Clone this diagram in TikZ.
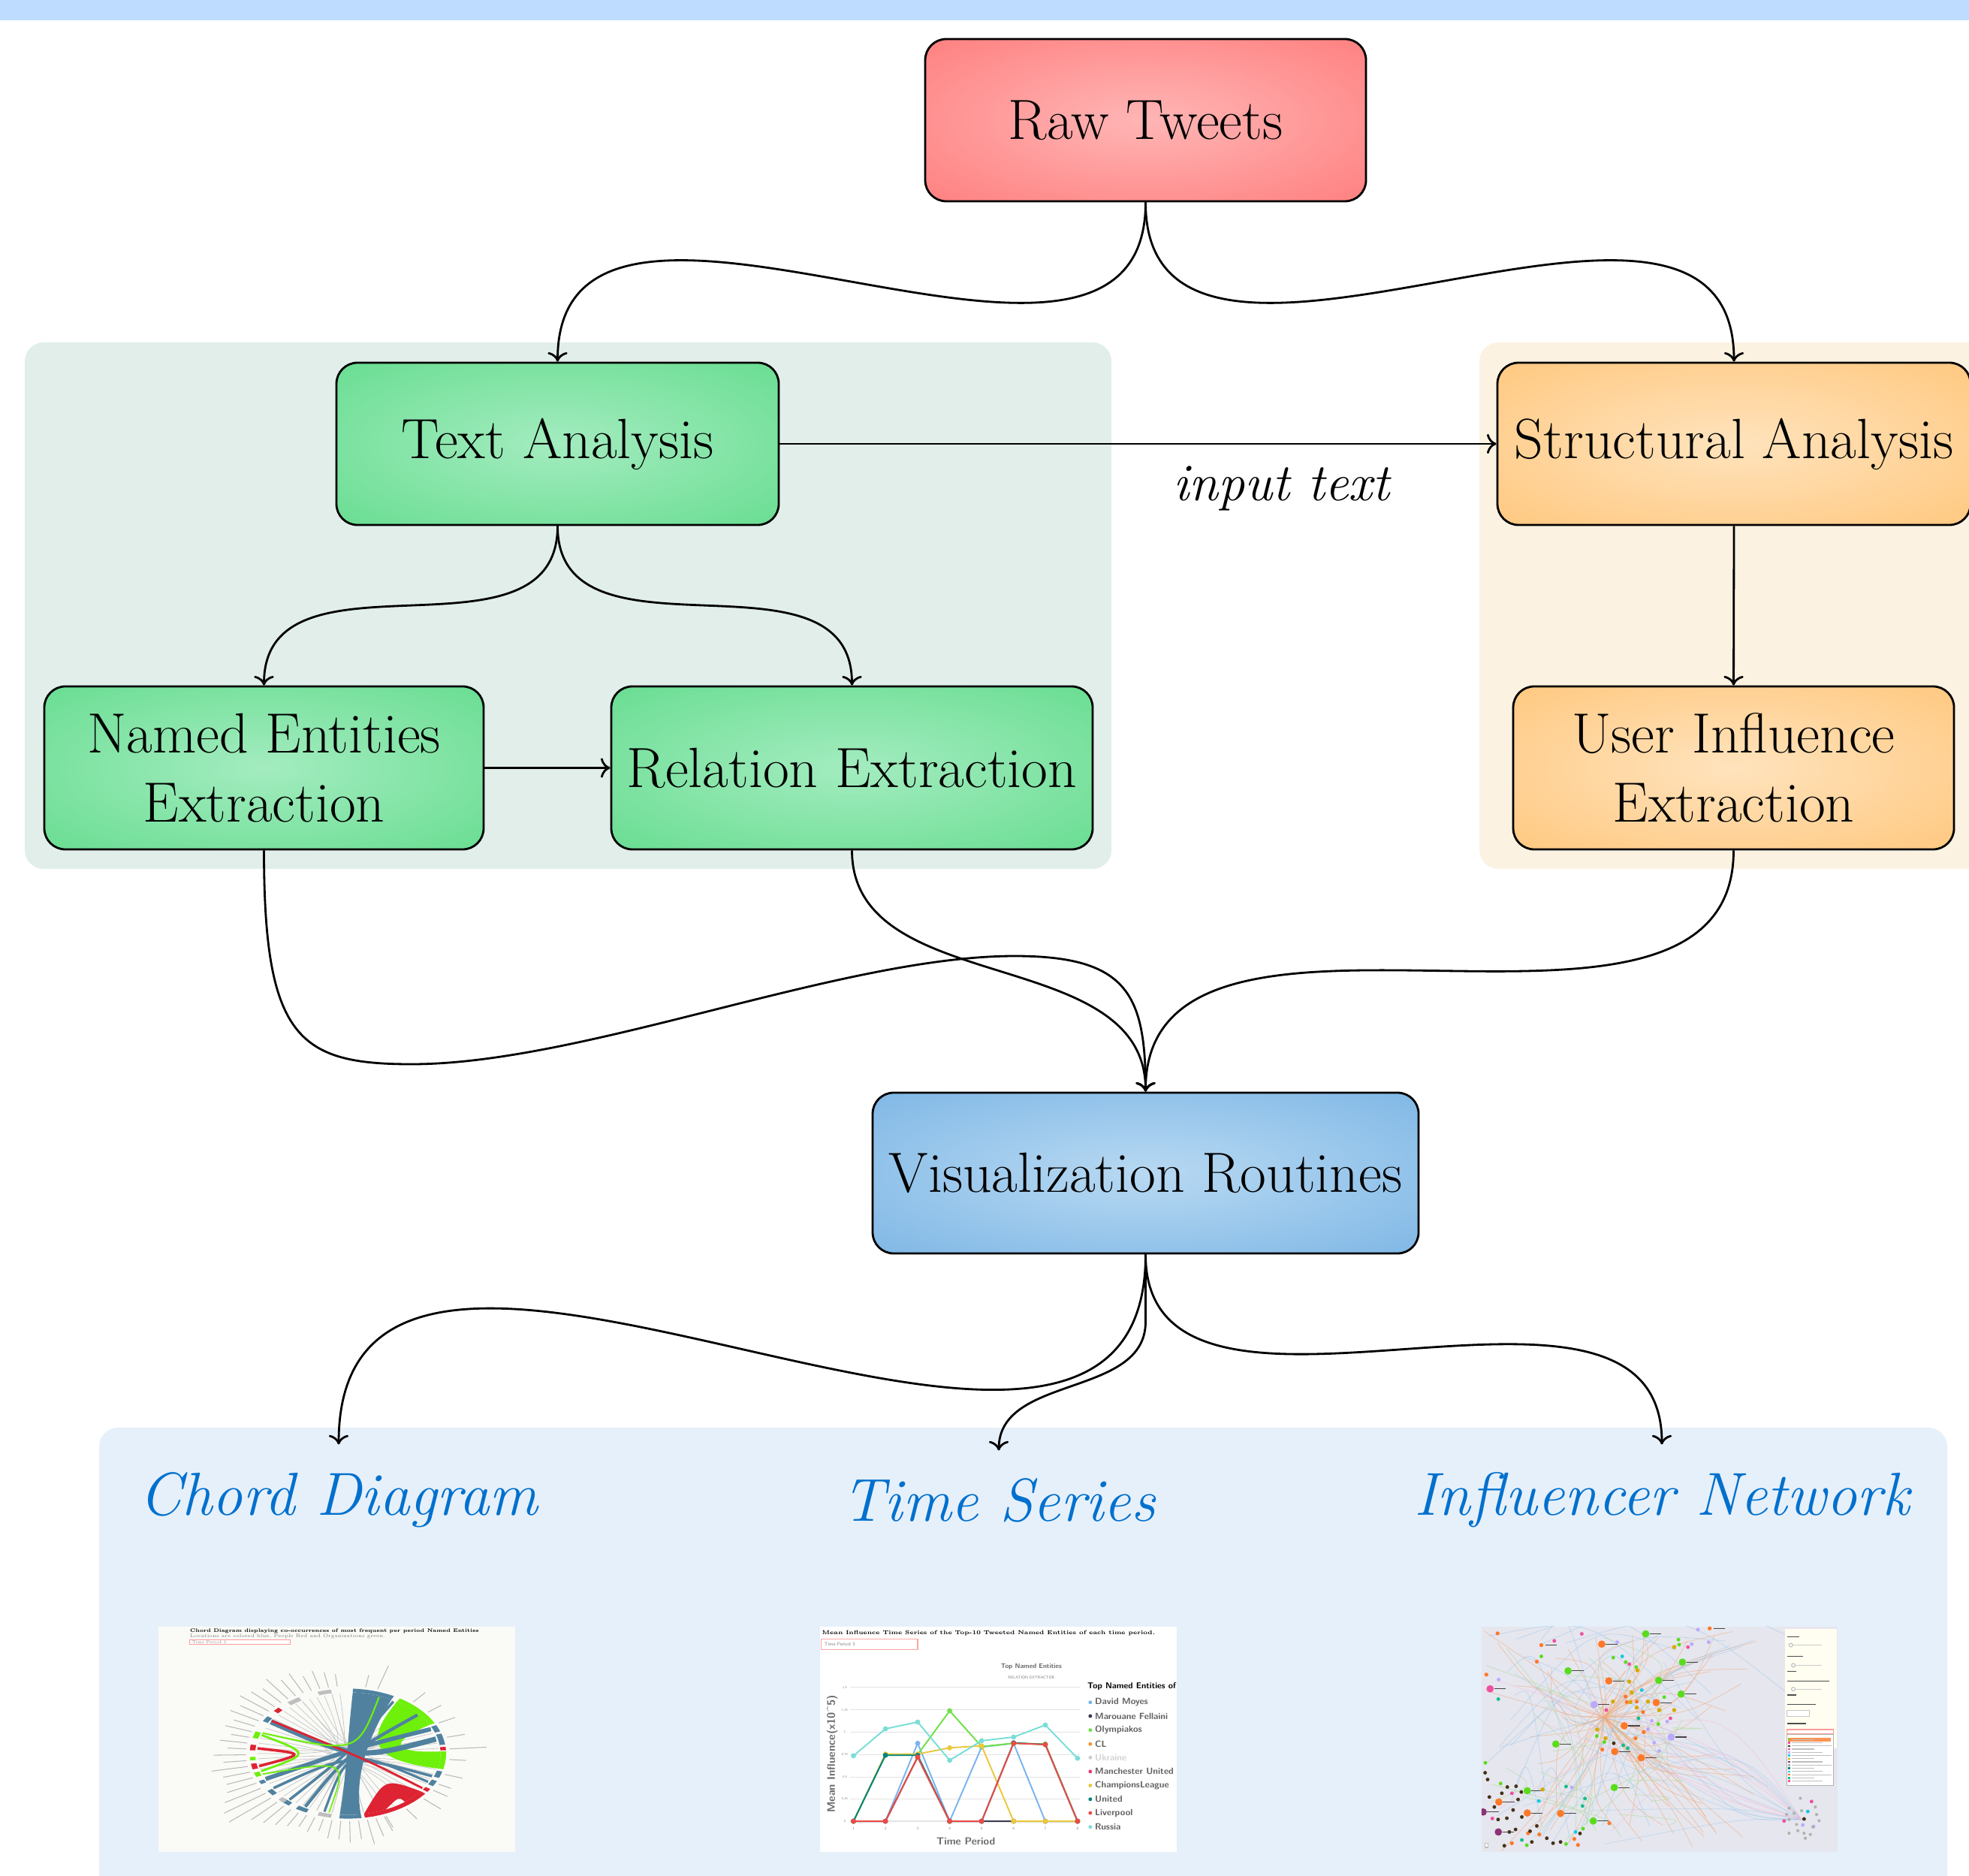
\documentclass[tikz,border=0pt]{standalone}
\usetikzlibrary{arrows.meta}

% palette
\definecolor{bandblue}{RGB}{190,220,255}
\definecolor{panelgreen}{RGB}{225,238,233}
\definecolor{panelorange}{RGB}{252,242,226}
\definecolor{panelblue}{RGB}{230,240,250}
\definecolor{vislabel}{RGB}{0,112,206}
\definecolor{chordblue}{RGB}{80,130,160}
\definecolor{chordgreen}{RGB}{110,240,10}
\definecolor{chordred}{RGB}{222,35,50}
\definecolor{thumbbg}{RGB}{250,250,247}
\definecolor{netbg}{RGB}{230,230,238}
\definecolor{netor}{RGB}{255,120,40}
\definecolor{netgr}{RGB}{90,220,30}
\definecolor{netpu}{RGB}{185,170,255}
\definecolor{netpk}{RGB}{240,80,160}
\definecolor{netgd}{RGB}{215,170,10}
\definecolor{netcy}{RGB}{20,200,230}
\definecolor{nettl}{RGB}{20,190,140}
\definecolor{netbk}{RGB}{70,50,25}
\definecolor{netpl}{RGB}{140,50,120}
\definecolor{netgy}{RGB}{175,180,170}
\definecolor{netline}{RGB}{240,170,120}
\definecolor{netlineb}{RGB}{150,200,235}
\definecolor{netlineg}{RGB}{170,220,150}
\definecolor{tsrussia}{RGB}{120,222,215}
\definecolor{tsolymp}{RGB}{110,225,70}
\definecolor{tscl}{RGB}{245,150,50}
\definecolor{tschamp}{RGB}{235,200,60}
\definecolor{tsunited}{RGB}{0,130,125}
\definecolor{tsliver}{RGB}{235,75,70}
\definecolor{tsmanu}{RGB}{230,60,110}
\definecolor{tsmoyes}{RGB}{120,180,240}
\definecolor{tsfell}{RGB}{60,60,80}
\definecolor{tsukr}{RGB}{205,205,205}

% soft radial fills for the stage boxes
\pgfdeclareradialshading{redglow}{\pgfpoint{0bp}{0bp}}{rgb(0bp)=(1,0.71,0.71); rgb(36bp)=(1,0.5,0.5); rgb(50bp)=(1,0.5,0.5)}
\pgfdeclareradialshading{greenglow}{\pgfpoint{0bp}{0bp}}{rgb(0bp)=(0.64,0.925,0.75); rgb(36bp)=(0.41,0.867,0.57); rgb(50bp)=(0.41,0.867,0.57)}
\pgfdeclareradialshading{orangeglow}{\pgfpoint{0bp}{0bp}}{rgb(0bp)=(1,0.89,0.74); rgb(36bp)=(1,0.785,0.5); rgb(50bp)=(1,0.785,0.5)}
\pgfdeclareradialshading{blueglow}{\pgfpoint{0bp}{0bp}}{rgb(0bp)=(0.72,0.85,0.95); rgb(36bp)=(0.5,0.72,0.9); rgb(50bp)=(0.5,0.72,0.9)}

\newcommand\boxfont{\fontsize{21.5}{26.2}\selectfont}
\newcommand\edgefont{\fontsize{20}{24}\selectfont\itshape}
\newcommand\outfont{\fontsize{23}{28}\selectfont\itshape}
\newcommand\tinyfont[1]{\fontsize{#1}{#1}\selectfont}

% one coloured segment of the chord ring
\newcommand\chordarc[3]{\fill[#3] plot[domain=#1:#2,samples=10] ({cos(\x)},{sin(\x)}) -- plot[domain=#2:#1,samples=10] ({1.06*cos(\x)},{1.06*sin(\x)}) -- cycle;}
% one line of the time-series chart with its markers
\newcommand\tsseries[2]{\draw[#1, line width=0.55pt] plot coordinates {#2}; \fill[#1] plot[mark=*, mark size=0.75pt, only marks] coordinates {#2};}

\tikzset{
  stage/.style={draw=black, line width=0.8pt, rounded corners=0.28cm, minimum height=2.16cm,
                align=center, font=\boxfont, inner sep=0pt},
  flow/.style={line width=0.8pt, -{To[length=3.6pt,width=7.5pt]}},
  outlabel/.style={font=\outfont, text=vislabel, inner sep=0.36cm, anchor=base},
  tiny/.style={inner sep=0pt, anchor=west},
}

\begin{document}
\begin{tikzpicture}[x=1cm,y=1cm]
\useasboundingbox (0,0) rectangle (26.22,-24.98);

% ---------------- backdrops ----------------
\fill[bandblue] (0,0) rectangle (26.22,-0.275);
\fill[panelgreen, rounded corners=0.25cm] (0.33,-4.56) rectangle (14.80,-11.57);
\fill[panelorange, rounded corners=0.25cm] (19.70,-4.56) rectangle (26.80,-11.57);
\fill[panelblue, rounded corners=0.25cm] (1.32,-19.01) rectangle (25.93,-25.40);

% ---------------- processing stages ----------------
\node[stage, shading=redglow, minimum width=5.87cm] (raw) at (15.255,-1.60) {Raw Tweets};
\node[stage, shading=greenglow, minimum width=5.89cm] (textan) at (7.425,-5.91) {Text Analysis};
\node[stage, shading=orangeglow, minimum width=6.30cm] (struct) at (23.09,-5.91) {Structural Analysis};
\node[stage, shading=greenglow, minimum width=5.85cm, minimum height=2.17cm] (ner) at (3.515,-10.225) {Named Entities\\Extraction};
\node[stage, shading=greenglow, minimum width=6.41cm, minimum height=2.17cm] (rel) at (11.345,-10.225) {Relation Extraction};
\node[stage, shading=orangeglow, minimum width=5.87cm, minimum height=2.17cm] (infl) at (23.085,-10.225) {User Influence\\Extraction};
\node[stage, shading=blueglow, minimum width=7.27cm, minimum height=2.14cm] (vis) at (15.255,-15.62) {Visualization Routines};

% ---------------- output captions ----------------
\node[outlabel] (chord) at (4.51,-20.17) {Chord Diagram};
\node[outlabel] (series) at (13.30,-20.25) {Time Series};
\node[outlabel] (network) at (22.13,-20.17) {Influencer Network};

% ---------------- connectors ----------------
\coordinate (nebend) at (5.48,-14.17);
\coordinate (nepeak) at (13.51,-12.73);
\coordinate (tsbend) at (15.255,-17.60);

\draw[flow] (raw.south) to[out=-90,in=90,distance=3.5cm] (textan.north);
\draw[flow] (raw.south) to[out=-90,in=90,distance=3.5cm] (struct.north);
\draw[flow] (textan.east) -- node[pos=0.70, anchor=base, yshift=-0.76cm, font=\edgefont] (inlbl) {input text} (struct.west);
\draw[flow] (textan.south) to[out=-90,in=90,distance=1.95cm] (ner.north);
\draw[flow] (textan.south) to[out=-90,in=90,distance=1.95cm] (rel.north);
\draw[flow] (struct.south) -- (infl.north);
\draw[flow] (ner.east) -- (rel.west);
\draw[flow] (ner.south) to[out=-90,in=180,out distance=2.5cm,in distance=1.5cm] (nebend)
                       to[out=0,in=180,distance=2.3cm] (nepeak)
                       to[out=0,in=90,out distance=1.5cm,in distance=1.3cm] (vis.north);
\draw[flow] (rel.south) to[out=-90,in=90] (vis.north);
\draw[flow] (infl.south) to[out=-90,in=90] (vis.north);
\draw[flow] (vis.south) to[out=-90,in=90,looseness=1.15] (chord.north);
\draw[flow] (vis.south) -- (tsbend) to[out=-90,in=90] (series.north);
\draw[flow] (vis.south) to[out=-90,in=90,looseness=1.05] (network.north);

% ================= chord diagram thumbnail =================
\begin{scope}[shift={(1.80,-21.40)}, x=0.0033333cm, y=-0.0033333cm]
  \fill[thumbbg] (93,78) rectangle (1520,980);
  \node[tiny, font=\tinyfont{1.9}\bfseries] (cdtitle) at (218,95) {Chord Diagram displaying co-occurrences of most frequent per period Named Entities};
  \node[tiny, font=\tinyfont{1.9}, text=gray] (cdsub) at (218,118) {Locations are colored blue, People Red and Organizations green.};
  \draw[red!40, line width=0.3pt, fill=white] (218,130) rectangle (620,150);
  \node[tiny, font=\tinyfont{1.5}, text=gray] (cdsel) at (226,140) {Time Period 3};
\end{scope}
\begin{scope}[shift={(4.633,-23.35)}, x=1.2333cm, y=0.8167cm]
  % entity names around the ring
  \foreach \a/\l in {96/0.2,101/0.25,106/0.3,111/0.25,116/0.35,121/0.3,126/0.4,131/0.3,136/0.35,141/0.4,
                     146/0.3,151/0.35,156/0.25,161/0.3,166/0.2,171/0.3,176/0.2,181/0.35,186/0.25,191/0.4,
                     196/0.3,201/0.3,206/0.35,211/0.45,216/0.55,221/0.6,226/0.4,231/0.35,236/0.3,241/0.25,
                     246/0.2,251/0.25,256/0.2,261/0.3,266/0.3,271/0.35,276/0.3,281/0.4,286/0.3,291/0.25,
                     80/0.2,73/0.4,50/0.2,38/0.18,27/0.2,14/0.2,4/0.4,-5/0.18,-18/0.2,-27/0.15,-33/0.18,
                     -42/0.25,-55/0.2,-68/0.2}
    {\draw[gray!55, line width=0.3pt] (\a:1.1) -- (\a:{1.1+\l});}
  % thin grey chords
  \foreach \a/\b in {100/-60,110/-20,120/10,130/-100,140/40,150/-120,160/0,170/-30,180/60,190/-80,
                     200/20,210/-50,220/70,230/-10,240/45,250/-90,260/15,95/-110,105/200,115/250,
                     125/-70,135/-5,145/-40,155/30,165/-85,175/50,185/-25,195/35,205/-65,215/5,
                     225/-45,235/25,245/-15,255/65,265/-35,270/80,280/100,290/120}
    {\draw[gray!45, line width=0.2pt] (\a:0.98) .. controls (0,0) .. (\b:0.98);}
  % main ribbons
  \fill[chordblue] (62:1) .. controls (0.15,0.1) and (0.08,-0.5) .. (-82:1)
      -- plot[domain=-82:-95,samples=5] ({cos(\x)},{sin(\x)})
      .. controls (-0.02,-0.4) and (0.0,0.3) .. (87:1)
      -- plot[domain=87:62,samples=8] ({cos(\x)},{sin(\x)}) -- cycle;
  \fill[chordgreen] (58:1) .. controls (0.2,0.25) and (0.2,-0.1) .. (-14:1)
      -- plot[domain=-14:2,samples=5] ({cos(\x)},{sin(\x)})
      .. controls (0.45,0.0) and (0.45,0.2) .. (28:1)
      -- plot[domain=28:58,samples=8] ({cos(\x)},{sin(\x)}) -- cycle;
  \fill[chordred] (-38:1) .. controls (0.4,-0.4) .. (-80:1)
      -- plot[domain=-80:-66,samples=5] ({cos(\x)},{sin(\x)})
      .. controls (0.55,-0.7) .. (-52:1)
      -- plot[domain=-52:-38,samples=5] ({cos(\x)},{sin(\x)}) -- cycle;
  \draw[chordblue, line width=1.6pt] (24:0.98) .. controls (0.1,0.1) .. (205:0.98);
  \draw[chordblue, line width=2pt] (14:0.98) .. controls (0.1,-0.1) .. (148:0.98);
  \draw[chordblue, line width=1.2pt] (-118:0.98) .. controls (0,0) .. (40:0.98);
  \draw[chordblue, line width=1pt] (-130:0.98) .. controls (0,0) .. (60:0.98);
  \draw[chordblue, line width=1pt] (215:0.98) .. controls (0,0) .. (-22:0.98);
  \draw[chordblue, line width=0.9pt] (-105:0.98) .. controls (0,0.1) .. (-28:0.98);
  \draw[chordred, line width=0.8pt] (147:0.98) .. controls (0.2,-0.1) .. (-35:0.98);
  \draw[chordred, line width=1pt] (175:0.98) .. controls (-0.45,0) .. (192:0.98);
  \draw[chordgreen, line width=0.8pt] (162:0.98) .. controls (-0.4,0.0) .. (197:0.98);
  \draw[chordgreen, line width=0.6pt] (160:0.98) .. controls (0.1,0.0) .. (70:0.98);
  \draw[chordgreen, line width=0.5pt] (200:0.98) .. controls (0,-0.1) .. (-102:0.98);
  % ring segments
  \foreach \a/\b/\c in {62/87/chordblue,28/58/chordgreen,20/26/chordblue,8/18/chordblue,3/6/chordred,
                        -14/2/chordgreen,-16/-22/chordblue,-25/-30/chordblue,-33/-36/chordred,
                        -38/-80/chordred,-82/-95/chordblue,-100/-108/gray!50,-115/-122/chordblue,
                        -127/-133/chordblue,197/201/chordgreen,189/194/chordred,183/186/chordgreen,
                        172/177/chordred,160/166/chordgreen,145/150/chordblue,135/139/chordred,
                        205/208/chordblue,215/220/chordblue,225/229/gray!50,120/128/gray!50,100/108/gray!50}
    {\chordarc{\a}{\b}{\c}}
\end{scope}

% ================= time series thumbnail =================
\begin{scope}[shift={(10.70,-21.40)}, x=0.0033333cm, y=-0.0033333cm]
  \fill[white] (66,78) rectangle (1494,980);
  \node[tiny, font=\tinyfont{2.15}\bfseries] (tstitle) at (72,105) {Mean Influence Time Series of the Top-10 Tweeted Named Entities of each time period.};
  \draw[red!35, line width=0.3pt, fill=white] (72,128) rectangle (457,170);
  \node[tiny, font=\tinyfont{1.8}\sffamily, text=gray] (tssel) at (82,149) {Time Period 3};
  \node[inner sep=0pt, font=\tinyfont{2.5}\sffamily\bfseries, text=gray!80!black] (tshead) at (912,238) {Top Named Entities};
  \node[inner sep=0pt, font=\tinyfont{1.5}\sffamily, text=gray] (tssub) at (912,282) {RELATION EXTRACTOR};
  \foreach \gy/\gv in {321/1.5,411/1.25,500/1,590/0.75,680/0.5,768/0.25,857/0} {
    \draw[gray!22, line width=0.35pt] (185,\gy) -- (1105,\gy);
    \node[inner sep=0pt, font=\tinyfont{1.2}\sffamily, text=gray] (tsy\gy) at (165,\gy) {\gv};
  }
  \foreach \p/\gx in {1/200,2/328,3/457,4/585,5/713,6/841,7/968,8/1097}
    {\node[inner sep=0pt, font=\tinyfont{1.4}\sffamily, text=gray] (tsx\p) at (\gx,887) {\p};}
  \node[inner sep=0pt, rotate=90, font=\tinyfont{4.2}\sffamily\bfseries, text=gray!85!black] (tsylab) at (115,588) {Mean Influence(x10\textasciicircum 5)};
  \node[inner sep=0pt, font=\tinyfont{3.9}\sffamily\bfseries, text=gray!85!black] (tsxlab) at (650,938) {Time Period};
  % data
  \tsseries{tsmoyes}{(200,857) (328,857) (457,545) (585,857) (713,560) (841,545) (968,857) (1097,857)}
  \tsseries{tsfell}{(200,857) (328,857) (457,600) (585,857) (713,857) (841,857) (968,857) (1097,857)}
  \tsseries{tsolymp}{(200,857) (328,590) (457,590) (585,415) (713,558) (841,545) (968,548) (1097,857)}
  \tsseries{tschamp}{(200,857) (328,588) (457,588) (585,563) (713,555) (841,857) (968,857) (1097,857)}
  \tsseries{tsunited}{(200,857) (328,593) (457,593) (585,857) (713,857) (841,543) (968,550) (1097,857)}
  \tsseries{tsliver}{(200,857) (328,857) (457,600) (585,857) (713,857) (841,545) (968,550) (1097,857)}
  \tsseries{tsrussia}{(200,595) (328,487) (457,460) (585,613) (713,535) (841,520) (968,472) (1097,605)}
  % legend
  \node[tiny, font=\tinyfont{3.2}\sffamily\bfseries] (tslegh) at (1135,316) {Top Named Entities of};
  \foreach \ly/\lc/\lt in {381/tsmoyes/David Moyes,436/tsfell/Marouane Fellaini,492/tsolymp/Olympiakos,
                           548/tscl/CL,658/tsmanu/Manchester United,
                           714/tschamp/ChampionsLeague,769/tsunited/United,824/tsliver/Liverpool,880/tsrussia/Russia} {
    \fill[\lc] (1148,\ly) circle[radius=0.7pt];
    \node[tiny, font=\tinyfont{3.4}\sffamily\bfseries, text=gray!75!black] (tsleg\ly) at (1165,\ly) {\lt};
  }
  \fill[tsukr] (1148,602) circle[radius=0.7pt];
  \node[tiny, font=\tinyfont{3.4}\sffamily\bfseries, text=gray!35] (tsukrtext) at (1165,602) {Ukraine};
\end{scope}

% ================= influencer network thumbnail =================
\begin{scope}[shift={(19.50,-21.40)}, x=0.0033333cm, y=-0.0033333cm]
  \begin{scope}
    \clip (69,78) rectangle (1494,980);
    \fill[netbg] (69,78) rectangle (1494,980);
    \pgfmathsetseed{17}
    \foreach \k in {1,...,70} {
      \pgfmathsetmacro\ex{70+1100*rnd}
      \pgfmathsetmacro\ey{78+900*rnd}
      \pgfmathsetmacro\cx{560+(\ex-560)*0.5+260*(rnd-0.5)}
      \pgfmathsetmacro\cy{440+(\ey-440)*0.5+260*(rnd-0.5)}
      \draw[netline, opacity=0.5, line width=0.25pt] (560,440) .. controls (\cx,\cy) .. (\ex,\ey);
    }
    \foreach \k in {1,...,26} {
      \pgfmathsetmacro\sx{70+500*rnd}
      \pgfmathsetmacro\sy{78+900*rnd}
      \pgfmathsetmacro\ex{300+1100*rnd}
      \pgfmathsetmacro\ey{78+900*rnd}
      \draw[netlineb, opacity=0.45, line width=0.25pt] (\sx,\sy) .. controls ({(\sx+\ex)/2},{(\sy+\ey)/2-250}) .. (\ex,\ey);
    }
    \foreach \k in {1,...,22} {
      \pgfmathsetmacro\sx{70+900*rnd}
      \pgfmathsetmacro\sy{78+900*rnd}
      \pgfmathsetmacro\ex{70+900*rnd}
      \pgfmathsetmacro\ey{78+900*rnd}
      \draw[netlineg, opacity=0.5, line width=0.25pt] (\sx,\sy) .. controls ({(\sx+\ex)/2+150},{(\sy+\ey)/2}) .. (\ex,\ey);
    }
    \foreach \k in {1,...,12} {
      \pgfmathsetmacro\ex{100+700*rnd}
      \pgfmathsetmacro\ey{150+800*rnd}
      \draw[netlineb, opacity=0.4, line width=0.25pt] (1350,850) .. controls (1100,{500+400*rnd}) .. (\ex,\ey);
    }
    \foreach \k in {1,...,8} {
      \pgfmathsetmacro\ex{100+600*rnd}
      \pgfmathsetmacro\ey{150+800*rnd}
      \draw[netpk!40, opacity=0.45, line width=0.25pt] (1350,850) .. controls (1000,{300+500*rnd}) .. (\ex,\ey);
    }
    % entity labels beside the larger nodes
    \foreach \X/\Y in {550/148,578/295,640/475,708/603,385/826,252/824,726/107,415/255,873/220,778/293,
                       868/348,366/548,600/722,516/856,252/735,519/390,828/520,103/327,308/152,768/382,602/578,
                       138/780,982/85,136/900,75/820}
      {\draw[gray!55!black, line width=0.3pt] ({\X+16},\Y) -- ({\X+62},\Y);}
    % nodes
    \foreach \X/\Y in {550/148,578/295,640/475,708/603,385/826,252/824,138/780,768/382,602/578}
      {\fill[netor] (\X,\Y) circle[radius=1.4pt];}
    \foreach \X/\Y in {982/85,308/152,133/105,290/218,88/270,645/358,690/378,718/500,685/525,552/570,
                       440/928,455/952,190/945,255/905,300/910,580/865,715/420,650/380}
      {\fill[netor] (\X,\Y) circle[radius=0.75pt];}
    \foreach \X/\Y in {726/107,415/255,873/220,778/293,868/348,366/548,600/722,516/856,252/735}
      {\fill[netgr] (\X,\Y) circle[radius=1.4pt];}
    \foreach \X/\Y in {596/202,646/220,530/516,560/540,308/197,857/130,860/150,688/240,776/468,800/360,
                       84/623,407/948,475/887,145/706,250/953}
      {\fill[netgr] (\X,\Y) circle[radius=0.7pt];}
    \foreach \X/\Y in {519/390,828/520}
      {\fill[netpu] (\X,\Y) circle[radius=1.4pt];}
    \foreach \X/\Y in {735/488,760/543,780/576,935/90,978/140,910/148,612/140,137/290,430/722,750/455,812/458,
                       1355/872,1398/878}
      {\fill[netpu] (\X,\Y) circle[radius=0.7pt];}
    \fill[netpk] (103,327) circle[radius=1.4pt];
    \foreach \X/\Y in {470/107,360/135,568/412,660/228,895/160,825/445,1390/778,1280/856,190/745,112/846}
      {\fill[netpk] (\X,\Y) circle[radius=0.7pt];}
    \foreach \X/\Y in {693/253,532/490,670/342,780/412,660/298,840/412,735/378,665/380,595/378,840/160,
                       313/730,690/402,565/525}
      {\fill[netgd] (\X,\Y) circle[radius=0.8pt];}
    \foreach \X/\Y in {710/332,298/776,632/197,445/900,1375/818}
      {\fill[netcy] (\X,\Y) circle[radius=0.7pt];}
    \foreach \X/\Y in {136/368,697/445,654/565,636/553,407/718,483/766,473/796,230/932}
      {\fill[nettl] (\X,\Y) circle[radius=0.7pt];}
    \foreach \X/\Y in {83/663,93/690,172/720,207/717,228/740,195/812,170/845,205/890,290/876,263/897,
                       355/945,385/940,270/940,463/906,135/850,100/760,150/745,215/770,230/840,180/900,
                       120/800,160/955,330/925,1360/848,598/545}
      {\fill[netbk] (\X,\Y) circle[radius=0.7pt];}
    \foreach \X/\Y in {75/820,136/900}
      {\fill[netpl] (\X,\Y) circle[radius=1.4pt];}
    \foreach \X/\Y in {1345/765,1300/805,1320/825,1350/815,1405/800,1300/850,1330/870,1300/905,1335/895,
                       1360/905,1385/910,1420/855,1410/830,1395/880,1365/925,1290/830}
      {\fill[netgy] (\X,\Y) circle[radius=0.6pt];}
    % control panel
    \fill[white!94!yellow] (1285,88) rectangle (1490,565);
    \foreach \Y/\L in {118/50,198/65,258/38,295/170,352/38,390/115,466/75}
      {\draw[gray!60!black, line width=0.35pt] (1292,\Y) -- ({1292+\L},\Y);}
    \foreach \Y/\S in {152/1300,233/1310,328/1310}
      {\draw[gray!40, line width=0.3pt] (\S,\Y) -- (1432,\Y);
       \draw[gray!60, fill=white, line width=0.25pt] ({\S+7},\Y) circle[radius=0.7pt];}
    \draw[gray!45, line width=0.3pt, fill=white] (1292,412) rectangle (1382,438);
    \draw[red!40, line width=0.3pt, fill=white] (1290,490) rectangle (1478,508);
    \draw[gray!60, line width=0.3pt, fill=white] (1290,510) rectangle (1478,715);
    \fill[netor!80] (1296,524) rectangle (1468,537);
    \foreach \k/\c in {0/netgr,1/netpk,2/netbk,3/netpk,4/netpu,5/netcy,6/netgd,7/netpl,8/netgy,9/tsunited,
                       10/netcy,11/netor,12/nettl,13/netpk}
      {\fill[\c] (1297,{530+12.8*\k-3.5}) rectangle (1304,{530+12.8*\k+3.5});
       \draw[gray!50, line width=0.35pt] (1310,{530+12.8*\k}) -- ({1400+35*mod(\k,3)},{530+12.8*\k});}
    \draw[gray!50, fill=white, line width=0.3pt] (82,945) rectangle (96,962);
  \end{scope}
\end{scope}

\end{tikzpicture}
\end{document}
